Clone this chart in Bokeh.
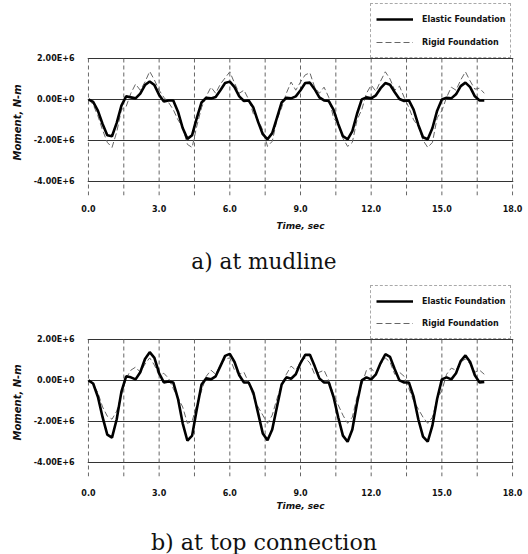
from bokeh.plotting import figure
from bokeh.models import (Range1d, FixedTicker, Legend, LegendItem, Div, Title)
from bokeh.layouts import column
from bokeh.embed import file_html
from bokeh.resources import INLINE

# ---------------- data (moment in units of 1E+6 N-m) ----------------
time_s = [0.0, 0.2, 0.4, 0.6, 0.8, 1.0, 1.2, 1.4, 1.6, 1.8,
          2.0, 2.2, 2.4, 2.6, 2.8, 3.0, 3.2, 3.4, 3.6, 3.8,
          4.0, 4.2, 4.4, 4.6, 4.8, 5.0, 5.2, 5.4, 5.6, 5.8,
          6.0, 6.2, 6.4, 6.6, 6.8, 7.0, 7.2, 7.4, 7.6, 7.8,
          8.0, 8.2, 8.4, 8.6, 8.8, 9.0, 9.2, 9.4, 9.6, 9.8,
          10.0, 10.2, 10.4, 10.6, 10.8, 11.0, 11.2, 11.4, 11.6, 11.8,
          12.0, 12.2, 12.4, 12.6, 12.8, 13.0, 13.2, 13.4, 13.6, 13.8,
          14.0, 14.2, 14.4, 14.6, 14.8, 15.0, 15.2, 15.4, 15.6, 15.8,
          16.0, 16.2, 16.4, 16.6, 16.8]

mudline_elastic = [0.0, -0.12, -0.55, -1.2, -1.75, -1.8, -1.15, -0.3, 0.15, 0.1,
                   0.05, 0.28, 0.7, 0.88, 0.7, 0.22, -0.1, -0.05, -0.05, -0.6,
                   -1.4, -1.93, -1.75, -0.9, -0.15, 0.08, 0.05, 0.12, 0.45, 0.8,
                   0.87, 0.6, 0.15, -0.08, -0.05, -0.4, -1.1, -1.7, -1.95, -1.65,
                   -0.9, -0.15, 0.08, 0.05, 0.15, 0.45, 0.8, 0.82, 0.5, 0.1,
                   -0.05, -0.08, -0.5, -1.2, -1.8, -1.95, -1.55, -0.7, 0.0, 0.1,
                   0.05, 0.2, 0.55, 0.8, 0.72, 0.35, 0.02, -0.08, -0.05, -0.5,
                   -1.25, -1.85, -1.95, -1.4, -0.55, 0.0, 0.08, 0.05, 0.25, 0.65,
                   0.82, 0.6, 0.15, -0.05, -0.05]

mudline_rigid = [0.0, -0.25, -0.8, -1.5, -2.1, -2.35, -1.6, -0.5, -0.35, 0.3,
                 0.75, 0.45, 0.85, 1.37, 0.95, 0.45, 0.1, -0.15, -0.5, -1.0,
                 -1.35, -2.2, -2.35, -1.3, -0.4, 0.15, 0.6, 0.3, 0.75, 1.05,
                 1.35, 0.8, 0.3, 0.45, 0.0, -0.7, -1.0, -1.5, -2.3, -2.05,
                 -1.0, -0.4, 0.3, 0.85, 0.45, 0.85, 1.2, 1.3, 0.6, 0.3,
                 0.6, 0.1, -0.9, -1.2, -1.9, -2.3, -2.1, -1.0, -0.5, 0.3,
                 0.7, 0.4, 0.9, 1.35, 1.0, 0.45, 0.65, 0.1, -0.4, -1.0,
                 -1.3, -2.0, -2.35, -2.1, -0.9, -0.55, 0.1, 0.6, 0.45, 0.95,
                 1.35, 0.9, 0.5, 0.55, 0.3]

top_elastic = [0.0, -0.15, -0.8, -1.8, -2.65, -2.8, -1.9, -0.55, 0.2, 0.15,
               0.05, 0.4, 1.05, 1.38, 1.1, 0.35, -0.1, -0.05, -0.1, -0.9,
               -2.1, -2.95, -2.7, -1.4, -0.2, 0.1, 0.05, 0.2, 0.7, 1.2,
               1.3, 0.9, 0.25, -0.1, -0.1, -0.6, -1.6, -2.6, -2.93, -2.4,
               -1.3, -0.2, 0.15, 0.08, 0.3, 0.85, 1.25, 1.25, 0.7, 0.1,
               -0.1, -0.1, -0.8, -1.8, -2.7, -3.0, -2.4, -1.1, 0.0, 0.15,
               0.05, 0.3, 0.85, 1.28, 1.15, 0.55, 0.0, -0.1, -0.1, -0.8,
               -1.9, -2.75, -3.0, -2.2, -0.9, 0.05, 0.15, 0.05, 0.35, 0.95,
               1.22, 0.9, 0.25, -0.1, -0.08]

top_rigid = [0.0, -0.2, -0.6, -1.3, -1.75, -1.9, -1.5, -0.7, 0.1, 0.5,
             0.65, 0.4, 0.8, 1.1, 0.75, 0.25, 0.35, 0.1, -0.4, -0.85,
             -1.3, -2.1, -2.0, -1.2, -0.5, 0.2, 0.5, 0.3, 0.75, 1.05,
             1.1, 0.5, 0.3, 0.4, -0.1, -0.8, -1.3, -1.7, -2.1, -1.7,
             -0.9, -0.2, 0.3, 0.7, 0.5, 0.9, 1.1, 0.85, 0.3, 0.4,
             0.5, 0.0, -0.7, -1.2, -1.7, -2.1, -1.8, -0.8, -0.2, 0.5,
             0.6, 0.3, 0.8, 1.1, 0.9, 0.3, 0.4, 0.2, -0.4, -1.0,
             -1.4, -1.8, -2.1, -1.8, -0.9, -0.5, 0.3, 0.6, 0.5, 0.9,
             1.05, 0.8, 0.4, 0.5, 0.3]

x_tick_values = [0, 3, 6, 9, 12, 15, 18]
x_tick_labels = ["0.0", "3.0", "6.0", "9.0", "12.0", "15.0", "18.0"]
x_grid_values = [0, 1.5, 3, 4.5, 6, 7.5, 9, 10.5, 12, 13.5, 15, 16.5, 18]
y_tick_values = [-4, -2, 0, 2]
y_tick_labels = ["-4.00E+6", "-2.00E+6", "0.00E+0", "2.00E+6"]
series_names = ["Elastic Foundation", "Rigid Foundation"]
captions = ["a) at mudline", "b) at top connection"]
y_title = "Moment, N-m"
x_title = "Time, sec"

SANS = "DejaVu Sans"
W = 528
Y_MIN, Y_MAX = -4.7, 2.0      # plotted value range
Y_ROOM = 4.74                 # extra room above the plot for the legend
FRAME_H = 193


def make_chart(elastic, rigid, height, top_border, lab_standoff, title_standoff,
               legend_spacing, ytitle_offset):
    p = figure(width=W, height=height, output_backend="svg",
               toolbar_location=None,
               x_range=Range1d(-0.04, 18.04), y_range=Range1d(Y_MIN, Y_ROOM),
               min_border_left=87, min_border_right=15,
               min_border_top=top_border,
               min_border_bottom=height - top_border - FRAME_H)
    p.outline_line_color = None
    p.background_fill_color = "white"
    p.margin = 0

    # grids: horizontal from the grid, vertical ones limited to the value range
    p.xgrid.grid_line_color = None
    p.ygrid.ticker = FixedTicker(ticks=y_tick_values)
    p.ygrid.grid_line_color = "#333333"
    p.ygrid.grid_line_width = 1
    n = len(x_grid_values)
    p.segment(x0=x_grid_values, y0=[Y_MIN] * n, x1=x_grid_values, y1=[Y_MAX] * n,
              line_color="#555555", line_width=0.9, line_dash="4 3")

    # axes
    for ax in (p.xaxis[0], p.yaxis[0]):
        ax.axis_line_color = None
        ax.major_tick_line_color = None
        ax.minor_tick_line_color = None
        ax.major_label_text_font = SANS
        ax.major_label_text_font_style = "bold"
        ax.major_label_text_font_size = "8px"
        ax.major_label_text_color = "#111111"

    p.xaxis.ticker = FixedTicker(ticks=x_tick_values)
    p.xaxis.major_label_overrides = dict(zip(x_tick_values, x_tick_labels))
    p.xaxis.major_label_standoff = lab_standoff
    p.xaxis.axis_label = x_title
    p.xaxis.axis_label_text_font = SANS
    p.xaxis.axis_label_text_font_style = "bold italic"
    p.xaxis.axis_label_text_color = "#111111"
    p.xaxis.axis_label_text_font_size = "9px"
    p.xaxis.axis_label_standoff = title_standoff

    p.yaxis.ticker = FixedTicker(ticks=y_tick_values)
    p.yaxis.major_label_overrides = dict(zip(y_tick_values, y_tick_labels))
    p.yaxis.major_label_standoff = 7

    # y title as a side title so that it can sit over the value range
    yt = Title(text=y_title, align="left", offset=ytitle_offset, standoff=15,
               text_font=SANS, text_font_style="bold italic",
               text_font_size="10px", text_color="#111111")
    p.add_layout(yt, "left")

    r_rigid = p.line(time_s, rigid, line_color="#666666", line_width=1,
                     line_dash="6 3")
    r_el = p.line(time_s, elastic, line_color="#000000", line_width=2.6)

    legend_bottom = round((Y_MAX - Y_MIN) / (Y_ROOM - Y_MIN) * FRAME_H)
    legend = Legend(items=[LegendItem(label=series_names[0], renderers=[r_el]),
                           LegendItem(label=series_names[1], renderers=[r_rigid])],
                    location=(283, legend_bottom), margin=0,
                    padding=5, spacing=legend_spacing,
                    glyph_width=37, glyph_height=20, label_height=20,
                    label_standoff=9,
                    label_text_font=SANS, label_text_font_style="bold",
                    label_text_font_size="8px", label_text_color="#111111",
                    border_line_color="#555555", border_line_dash="3 2",
                    border_line_width=1,
                    background_fill_color="white", background_fill_alpha=1)
    p.add_layout(legend)
    return p


def caption(text, height, pad, size):
    html = ('<div style="width:%dpx;text-align:center;'
            "font-family:'DejaVu Serif';font-size:%spx;line-height:24px;"
            'padding-top:%dpx;color:#111;margin:0;">%s</div>'
            % (W, size, pad, text))
    return Div(text=html, width=W, height=height, margin=0)


p1 = make_chart(mudline_elastic, mudline_rigid, 240, 2, 3, 6, 3, 35)
d1 = caption(captions[0], 37, 10, 21.6)
p2 = make_chart(top_elastic, top_rigid, 248, 6, 6, 2, 2, 36)
d2 = caption(captions[1], 29, 5, 22.2)

layout = column(p1, d1, p2, d2, spacing=0)

open("out.html", "w").write(file_html(layout, INLINE))
